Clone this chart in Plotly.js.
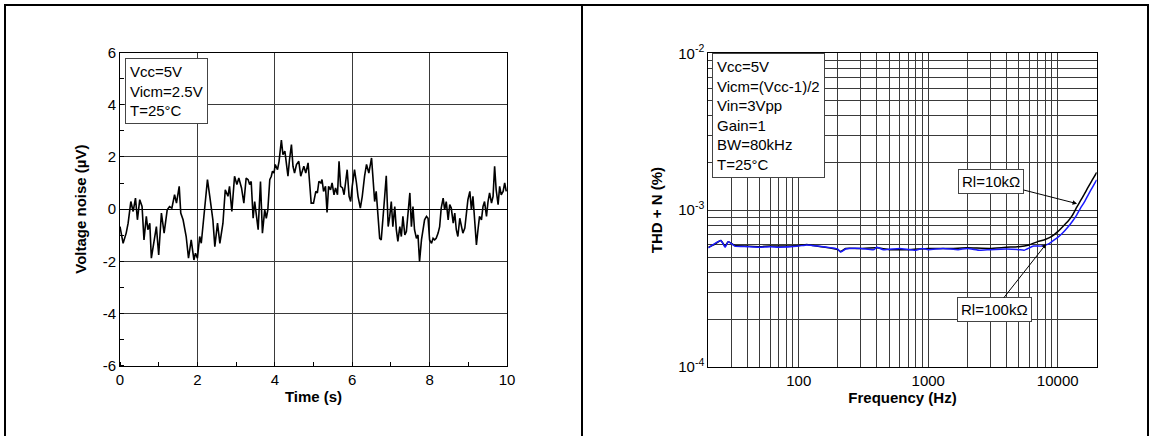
<!DOCTYPE html>
<html>
<head>
<meta charset="utf-8">
<script src="https://cdn.plot.ly/plotly-3.0.1.min.js"></script>
<style>html,body{margin:0;padding:0;background:#fff;}#chart{width:1154px;height:436px;}</style>
</head>
<body>
<div id="chart"></div>
<script>
// ---- Left panel: voltage noise vs time ----
const timeS = [
0.00,0.08,0.16,0.21,0.28,0.34,0.40,0.45,0.51,0.57,0.62,0.68,0.72,0.77,0.81,0.88,0.94,1.00,1.07,1.14,
1.22,1.28,1.34,1.41,1.46,1.53,1.57,1.63,1.71,1.77,1.84,1.91,1.95,2.00,2.06,2.10,2.17,2.26,2.32,2.40,
2.45,2.52,2.58,2.66,2.72,2.79,2.83,2.89,2.96,3.02,3.07,3.14,3.20,3.26,
3.31,3.35,3.39,3.44,3.48,3.52,3.57,3.63,3.68,3.74,3.78,3.82,3.87,3.91,3.94,3.98,4.01,4.07,4.11,4.17,
4.21,4.26,4.30,4.34,4.38,4.43,4.47,4.51,4.56,4.62,4.67,4.71,4.75,4.80,4.86,4.90,4.94,5.00,5.06,5.10,
5.14,5.19,5.22,5.26,5.31,5.35,5.39,5.44,5.48,5.53,5.57,5.62,5.66,5.70,5.75,5.79,5.83,5.87,5.92,5.96,
6.00,6.06,6.11,6.15,6.21,6.26,6.32,6.37,6.43,6.50,6.54,6.58,6.62,6.67,6.71,
6.75,6.80,6.84,6.88,6.93,6.97,7.01,7.05,7.10,7.14,7.18,7.23,7.27,7.31,7.36,7.40,7.44,7.49,7.53,7.57,
7.61,7.66,7.70,7.74,7.79,7.83,7.87,7.92,7.96,8.00,8.05,8.09,8.13,8.17,8.22,8.26,8.30,8.35,8.39,8.43,
8.48,8.52,8.56,8.61,8.65,8.69,8.73,8.78,8.82,8.86,8.91,8.95,8.99,9.04,9.08,9.12,9.17,9.21,9.25,9.29,
9.34,9.38,9.42,9.47,9.51,9.55,9.60,9.64,9.68,9.72,9.77,9.81,9.85,9.90,9.94,9.98
];
const noiseUV = [
-0.67,-1.31,-0.92,-0.54,0.29,-0.09,0.42,-0.41,0.36,0.10,-1.18,-0.28,-0.79,-0.54,-1.88,-1.18,-0.67,-1.76,-0.15,-0.92,
-0.03,0.10,0.04,0.55,0.23,0.87,-0.15,-0.41,-1.05,-1.88,-1.18,-1.95,-1.69,-1.88,-1.05,-1.31,-0.15,1.13,0.49,-0.41,
-1.44,-0.54,-1.31,-0.54,0.74,0.49,0.87,-0.09,1.26,0.94,1.19,0.81,0.23,1.19,
1.13,0.94,1.06,-0.35,0.29,-0.15,-0.79,1.06,-0.92,-0.03,-0.35,-0.03,1.13,1.26,1.45,1.38,1.71,1.51,1.83,2.64,
2.09,2.22,1.77,1.26,1.90,2.47,1.64,1.38,1.71,1.83,1.26,1.51,1.64,1.38,1.77,1.00,0.23,0.23,0.68,0.62,
1.06,1.00,1.13,0.68,0.87,-0.13,0.87,0.74,1.00,0.55,0.81,0.55,1.83,0.87,0.81,0.55,0.94,1.51,0.49,0.29,
0.87,1.51,1.00,0.49,0.04,0.49,1.26,1.71,1.38,1.96,1.13,0.29,0.68,-0.15,-1.12,
-1.18,-0.41,0.49,1.28,-0.67,-0.28,0.29,-0.67,0.10,-0.79,-1.24,-0.67,-1.05,-0.28,-0.99,-0.86,-0.22,0.62,-0.67,0.10,
-0.79,-1.12,-0.99,-2.01,-1.18,-0.73,-0.41,-0.28,-0.35,-1.18,-1.31,-1.12,-1.18,-1.12,-0.92,-0.67,0.04,0.42,-0.03,0.29,
-0.41,0.17,0.04,-0.54,-0.15,-0.79,-1.05,-0.35,-0.67,-0.92,-0.73,-0.03,0.36,0.68,-0.03,0.49,-0.41,-1.37,-0.79,-0.28,
-0.41,0.10,0.29,-0.28,0.29,0.62,0.23,0.49,1.64,0.74,0.17,0.87,0.55,0.68,1.00,0.68
];
const noiseXTicks = [0, 2, 4, 6, 8, 10];
const noiseYTicks = [-6, -4, -2, 0, 2, 4, 6];

// ---- Right panel: THD+N vs frequency ----
const freq10k = [20,22,25,27,28.5,32,40,50,60,80,100,115,130,160,200,210,230,300,400,500,700,1000,1500,2000,3000,4000,5000,6000,7000,8000,9000,10000,11000,12000,13000,14000,15000,16000,17000,18000,19000,20000];
const thd10k  = [5.8e-4,6.0e-4,6.4e-4,5.9e-4,6.3e-4,5.95e-4,5.9e-4,5.85e-4,5.9e-4,5.9e-4,5.95e-4,6.05e-4,5.95e-4,5.8e-4,5.6e-4,5.45e-4,5.7e-4,5.7e-4,5.75e-4,5.6e-4,5.6e-4,5.7e-4,5.7e-4,5.75e-4,5.7e-4,5.8e-4,5.85e-4,6.0e-4,6.3e-4,6.5e-4,6.8e-4,7.3e-4,7.9e-4,8.5e-4,9.3e-4,1.04e-3,1.15e-3,1.26e-3,1.38e-3,1.5e-3,1.62e-3,1.74e-3];
const freq100k = [20,25,27,28.5,32,40,50,60,70,100,115,140,200,210,230,300,380,400,450,600,800,900,1000,1300,1700,2000,2500,3000,4000,5000,5500,6500,7500,8500,9000,10000,11000,12000,13000,14000,15000,16000,17000,18000,19000,20000];
const thd100k  = [5.75e-4,6.4e-4,5.8e-4,6.3e-4,5.9e-4,5.85e-4,5.8e-4,5.85e-4,5.8e-4,5.9e-4,6.0e-4,5.9e-4,5.65e-4,5.4e-4,5.65e-4,5.7e-4,5.6e-4,5.8e-4,5.6e-4,5.7e-4,5.55e-4,5.7e-4,5.6e-4,5.7e-4,5.6e-4,5.7e-4,5.55e-4,5.6e-4,5.65e-4,5.6e-4,5.55e-4,5.9e-4,5.9e-4,6.1e-4,6.3e-4,6.7e-4,7.2e-4,7.8e-4,8.5e-4,9.3e-4,1.03e-3,1.12e-3,1.23e-3,1.34e-3,1.45e-3,1.56e-3];
const freqMajor = [100, 1000, 10000];
const freqLabels = ['100', '1000', '10000'];
const freqMinor = [20,30,40,50,60,70,80,90,200,300,400,500,600,700,800,900,2000,3000,4000,5000,6000,7000,8000,9000,20000];
const thdMajor = [1e-4, 1e-3, 1e-2];
const thdLabels = ['10<sup>-4</sup>', '10<sup>-3</sup>', '10<sup>-2</sup>'];
const thdMinor = [2e-4,3e-4,4e-4,5e-4,6e-4,7e-4,8e-4,9e-4,2e-3,3e-3,4e-3,5e-3,6e-3,7e-3,8e-3,9e-3];
const infoLeft = ['Vcc=5V', 'Vicm=2.5V', 'T=25°C'];
const infoRight = ['Vcc=5V', 'Vicm=(Vcc-1)/2', 'Vin=3Vpp', 'Gain=1', 'BW=80kHz', 'T=25°C'];

const W = 1154, H = 436;
const px = v => v / W;
const py = v => 1 - v / H;
const FONT = 'Liberation Sans, Arial, Helvetica, sans-serif';

const traces = [
  {x: timeS, y: noiseUV, xaxis: 'x', yaxis: 'y', mode: 'lines', line: {color: '#000', width: 1.6}, hoverinfo: 'skip'},
  {x: freq10k, y: thd10k, xaxis: 'x2', yaxis: 'y2', mode: 'lines', line: {color: '#000', width: 1.5, shape: 'spline', smoothing: 0.4}, hoverinfo: 'skip'},
  {x: freq100k, y: thd100k, xaxis: 'x2', yaxis: 'y2', mode: 'lines', line: {color: '#1a1aff', width: 1.5, shape: 'spline', smoothing: 0.4}, hoverinfo: 'skip'}
];

const gridC = '#3a3a3a';
const baseAxis = {
  showgrid: true, gridcolor: gridC, gridwidth: 1,
  showline: true, linecolor: '#000', linewidth: 1, mirror: true,
  ticks: '', zeroline: false, fixedrange: true,
  tickfont: {family: FONT, size: 15, color: '#000'}
};
const logMinor = vals => ({tickmode: 'array', tickvals: vals, ticks: '', showgrid: true, gridcolor: gridC, gridwidth: 1});

const layout = {
  width: W, height: H,
  margin: {l: 0, r: 0, t: 0, b: 0},
  paper_bgcolor: '#fff', plot_bgcolor: '#fff',
  showlegend: false,
  font: {family: FONT, size: 15, color: '#000'},
  xaxis: Object.assign({}, baseAxis, {
    domain: [px(120), px(507)], anchor: 'y', range: [0, 10],
    tickmode: 'array', tickvals: noiseXTicks, ticktext: noiseXTicks.map(String),
    minor: {ticks: 'inside', dtick: 1, tick0: 0, ticklen: 4, tickcolor: '#000', showgrid: false},
    title: {text: '<b>Time (s)</b>', font: {family: FONT, size: 15}, standoff: 4}
  }),
  yaxis: Object.assign({}, baseAxis, {
    domain: [py(365.7), py(52.5)], anchor: 'x', range: [-6, 6],
    tickmode: 'array', tickvals: noiseYTicks, ticktext: noiseYTicks.map(String),
    zeroline: true, zerolinecolor: '#000', zerolinewidth: 1.2,
    minor: {ticks: 'inside', dtick: 1, tick0: 0, ticklen: 4, tickcolor: '#000', showgrid: false},
    title: {text: '<b>Voltage noise (µV)</b>', font: {family: FONT, size: 15}, standoff: 12}
  }),
  xaxis2: Object.assign({}, baseAxis, {
    domain: [px(708.3), px(1096.7)], anchor: 'y2', type: 'log',
    range: [Math.log10(20), Math.log10(20000)],
    tickmode: 'array', tickvals: freqMajor, ticktext: freqLabels,
    minor: logMinor(freqMinor),
    title: {text: '<b>Frequency (Hz)</b>', font: {family: FONT, size: 15}, standoff: 4}
  }),
  yaxis2: Object.assign({}, baseAxis, {
    domain: [py(367), py(53.3)], anchor: 'x2', type: 'log', range: [-4, -2],
    tickmode: 'array', tickvals: thdMajor, ticktext: thdLabels,
    minor: logMinor(thdMinor),
    title: {text: '<b>THD + N (%)</b>', font: {family: FONT, size: 15}, standoff: 12}
  }),
  shapes: [
    {type: 'line', xref: 'paper', yref: 'paper', x0: px(4), x1: px(1149), y0: py(5), y1: py(5), line: {color: '#000', width: 2}},
    {type: 'line', xref: 'paper', yref: 'paper', x0: px(5), x1: px(5), y0: 0, y1: py(4), line: {color: '#000', width: 2}},
    {type: 'line', xref: 'paper', yref: 'paper', x0: px(582), x1: px(582), y0: 0, y1: py(4), line: {color: '#000', width: 2}},
    {type: 'line', xref: 'paper', yref: 'paper', x0: px(1148), x1: px(1148), y0: 0, y1: py(4), line: {color: '#000', width: 2}}
  ],
  annotations: [
    {xref: 'paper', yref: 'paper', x: px(125), y: py(58.3), xanchor: 'left', yanchor: 'top', align: 'left',
     text: infoLeft.join('<br>'), showarrow: false, bgcolor: '#fff', bordercolor: '#444', borderwidth: 1, borderpad: 4,
     font: {family: FONT, size: 15, color: '#000'}},
    {xref: 'paper', yref: 'paper', x: px(711.7), y: py(53.3), xanchor: 'left', yanchor: 'top', align: 'left',
     text: infoRight.join('<br>'), showarrow: false, bgcolor: '#fff', bordercolor: '#444', borderwidth: 1, borderpad: 4,
     font: {family: FONT, size: 15, color: '#000'}},
    {xref: 'x2', yref: 'y2', x: Math.log10(14100), y: Math.log10(1.1e-3), ax: -86, ay: -22,
     text: 'Rl=10kΩ', showarrow: true, arrowhead: 2, arrowsize: 0.9, arrowwidth: 1, arrowcolor: '#000', standoff: 0,
     bgcolor: '#fff', bordercolor: '#444', borderwidth: 1, borderpad: 3, font: {family: FONT, size: 15, color: '#000'}},
    {xref: 'x2', yref: 'y2', x: Math.log10(8160), y: Math.log10(6.1e-4), ax: -52, ay: 66,
     text: 'Rl=100kΩ', showarrow: true, arrowhead: 2, arrowsize: 0.9, arrowwidth: 1, arrowcolor: '#000', standoff: 0,
     bgcolor: '#fff', bordercolor: '#444', borderwidth: 1, borderpad: 3, font: {family: FONT, size: 15, color: '#000'}}
  ]
};

Plotly.newPlot('chart', traces, layout, {staticPlot: true, displayModeBar: false});
</script>
</body>
</html>
